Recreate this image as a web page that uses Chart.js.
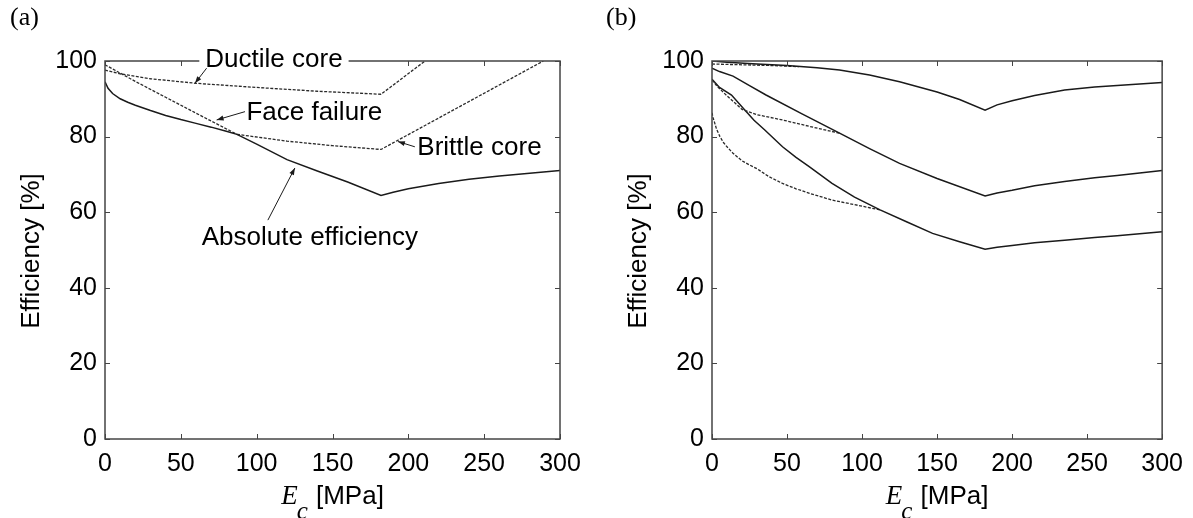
<!DOCTYPE html>
<html>
<head>
<meta charset="utf-8">
<script src="https://cdn.jsdelivr.net/npm/chart.js@4/dist/chart.umd.min.js"></script>
<style>
  body { margin: 0; background: #fff; }
  #wrap { position: relative; width: 1193px; height: 518px; }
  .panel { position: absolute; top: 0; height: 518px; }
</style>
</head>
<body>
<div id="wrap">
  <div class="panel" style="left:0;width:596px"><canvas id="chartA"></canvas></div>
  <div class="panel" style="left:596px;width:597px"><canvas id="chartB"></canvas></div>
</div>
<script>
// axis ticks
const xTicks = [0, 50, 100, 150, 200, 250, 300];
const yTicks = [0, 20, 40, 60, 80, 100];

// panel (a)
const absX = [0, 2, 5, 10, 15, 20, 30, 40, 50, 60, 70, 80, 87, 100, 120, 140, 160, 182, 190, 200, 220, 240, 260, 280, 300];
const absY = [94.5, 92.8, 91.4, 90.0, 89.1, 88.3, 86.9, 85.6, 84.5, 83.5, 82.5, 81.4, 80.6, 78.0, 73.9, 70.9, 68.0, 64.4, 65.3, 66.2, 67.6, 68.7, 69.6, 70.3, 71.0];
const faceX = [0, 20, 40, 60, 87];
const faceY = [99.0, 94.6, 90.4, 86.2, 80.6];
const ductX = [0, 10, 30, 60, 100, 140, 182, 211];
const ductY = [97.6, 96.6, 95.3, 94.1, 93.0, 92.0, 91.2, 100];
const britX = [87, 120, 150, 182, 289];
const britY = [80.6, 78.8, 77.6, 76.6, 100];

// panel (b)
const topSolidX = [0, 10, 30, 50, 70, 85, 105, 125, 150, 165, 182, 190, 200, 215, 235, 255, 270, 285, 300];
const topSolidY = [100, 99.7, 99.2, 98.8, 98.2, 97.6, 96.3, 94.5, 91.8, 89.8, 87.0, 88.4, 89.5, 90.9, 92.3, 93.1, 93.5, 93.9, 94.3];
const topDashX = [0, 20, 40, 58];
const topDashY = [99.2, 99.0, 98.8, 98.5];
const midSolidX = [0, 5, 14, 25, 36, 60, 85, 105, 125, 150, 182, 190, 200, 215, 235, 255, 270, 285, 300];
const midSolidY = [98.1, 97.2, 96.0, 93.5, 91.0, 86.0, 80.9, 76.8, 72.9, 68.9, 64.3, 65.1, 65.8, 67.0, 68.1, 69.1, 69.7, 70.4, 71.0];
const midDashX = [0, 3, 6, 10, 15, 20, 30, 47, 65, 85];
const midDashY = [95, 93.5, 92.3, 90.8, 89.0, 87.2, 85.8, 84.4, 82.7, 80.9];
const lowSolidX = [0, 5, 13, 22, 28, 35, 47, 56, 65, 80, 95, 112, 130, 147, 165, 182, 190, 200, 215, 235, 255, 270, 285, 300];
const lowSolidY = [95.2, 93, 91, 87, 84.3, 81.8, 77.3, 74.5, 72.0, 67.6, 64.0, 60.6, 57.4, 54.4, 52.2, 50.2, 50.7, 51.2, 51.9, 52.6, 53.3, 53.8, 54.3, 54.8];
const lowDashX = [0, 0.7, 1.5, 3, 5.3, 7.5, 10, 14, 20, 25, 30, 38, 47, 56, 65, 80, 100, 112];
const lowDashY = [86.3, 85.0, 84, 82.0, 80, 78.5, 77.3, 75.6, 73.6, 72.5, 71.5, 69.4, 67.6, 66.2, 65.0, 63.2, 61.6, 60.6];

// labels with arrows for panel (a), in data units: text centre, arrow tail, arrow head
const notes = [
  { text: 'Ductile core', at: [111.4, 100.3], from: [67, 98.1], to: [59.3, 94.1], box: true },
  { text: 'Face failure', at: [138, 86.2], from: [92.3, 86.6], to: [73.6, 84.4] },
  { text: 'Brittle core', at: [246.9, 77.0], from: [204.3, 77.3], to: [193.1, 78.7] },
  { text: 'Absolute efficiency', at: [135.1, 53.2], from: [107.4, 57.9], to: [125.2, 71.7] }
];

const FONT = '"Liberation Sans", Arial, sans-serif';
const SERIF = '"Liberation Serif", "Times New Roman", serif';
const zip = (xs, ys) => xs.map((x, i) => ({ x, y: ys[i] }));

function line(xs, ys, dashed) {
  return {
    data: zip(xs, ys),
    borderColor: dashed ? '#2a2a2a' : '#1a1a1a',
    borderWidth: dashed ? 1.3 : 1.5,
    borderDash: dashed ? [3, 1.5] : [],
    pointRadius: 0,
    tension: 0,
    fill: false
  };
}

function arrow(ctx, x1, y1, x2, y2) {
  ctx.beginPath();
  ctx.moveTo(x1, y1);
  ctx.lineTo(x2, y2);
  ctx.stroke();
  const a = Math.atan2(y2 - y1, x2 - x1);
  const L = 7, W = 2.5;
  ctx.beginPath();
  ctx.moveTo(x2, y2);
  ctx.lineTo(x2 - L * Math.cos(a) + W * Math.sin(a), y2 - L * Math.sin(a) - W * Math.cos(a));
  ctx.lineTo(x2 - L * Math.cos(a) - W * Math.sin(a), y2 - L * Math.sin(a) + W * Math.cos(a));
  ctx.closePath();
  ctx.fill();
}

function framePlugin(letter, withNotes) {
  return {
    id: 'frame' + letter,
    afterDraw(chart) {
      const { ctx, chartArea: a, scales } = chart;
      ctx.save();
      ctx.strokeStyle = '#444';
      ctx.lineWidth = 1.5;
      ctx.strokeRect(a.left, a.top, a.right - a.left, a.bottom - a.top);
      ctx.lineWidth = 1;
      ctx.beginPath();
      xTicks.forEach(v => {
        const px = Math.round(scales.x.getPixelForValue(v)) + 0.5;
        ctx.moveTo(px, a.bottom); ctx.lineTo(px, a.bottom - 5);
        ctx.moveTo(px, a.top); ctx.lineTo(px, a.top + 5);
      });
      yTicks.forEach(v => {
        const py = Math.round(scales.y.getPixelForValue(v)) + 0.5;
        ctx.moveTo(a.left, py); ctx.lineTo(a.left + 5, py);
        ctx.moveTo(a.right, py); ctx.lineTo(a.right - 5, py);
      });
      ctx.stroke();

      // panel letter
      ctx.fillStyle = '#000';
      ctx.font = '26px ' + SERIF;
      ctx.textAlign = 'left';
      ctx.textBaseline = 'middle';
      ctx.fillText('(' + letter + ')', 10, 18);

      // y title
      ctx.save();
      ctx.translate(a.left - 73, (a.top + a.bottom) / 2 + 1);
      ctx.rotate(-Math.PI / 2);
      ctx.font = '26px ' + FONT;
      ctx.textAlign = 'center';
      ctx.fillText('Efficiency [%]', 0, 0);
      ctx.restore();

      // x title: italic E with subscript c
      const cx = (a.left + a.right) / 2;
      const ty = a.bottom + 58;
      ctx.font = 'italic 27px ' + SERIF;
      const wE = ctx.measureText('E').width;
      ctx.font = 'italic 25px ' + SERIF;
      const wc = ctx.measureText('c').width;
      ctx.font = '26px ' + FONT;
      const wU = ctx.measureText(' [MPa]').width;
      const x0 = cx - (wE + wc + wU) / 2;
      ctx.textAlign = 'left';
      ctx.font = 'italic 27px ' + SERIF;
      ctx.fillText('E', x0, ty);
      ctx.font = 'italic 25px ' + SERIF;
      ctx.fillText('c', x0 + wE - 1, ty + 15);
      ctx.font = '26px ' + FONT;
      ctx.fillText(' [MPa]', x0 + wE + wc, ty);

      if (withNotes) {
        ctx.font = '26px ' + FONT;
        ctx.textAlign = 'center';
        ctx.strokeStyle = '#1a1a1a';
        ctx.lineWidth = 1;
        notes.forEach(n => {
          const tx = scales.x.getPixelForValue(n.at[0]);
          const ty2 = scales.y.getPixelForValue(n.at[1]);
          if (n.box) {
            const w = ctx.measureText(n.text).width;
            ctx.fillStyle = '#fff';
            ctx.fillRect(tx - w / 2 - 6, ty2 - 13, w + 12, 26);
          }
          ctx.fillStyle = '#000';
          ctx.fillText(n.text, tx, ty2);
          ctx.fillStyle = '#1a1a1a';
          arrow(ctx,
            scales.x.getPixelForValue(n.from[0]), scales.y.getPixelForValue(n.from[1]),
            scales.x.getPixelForValue(n.to[0]), scales.y.getPixelForValue(n.to[1]));
        });
      }
      ctx.restore();
    }
  };
}

function makeChart(id, letter, datasets, yWidth, rightPad, withNotes) {
  return new Chart(document.getElementById(id), {
    type: 'line',
    data: { datasets },
    options: {
      responsive: true,
      maintainAspectRatio: false,
      animation: false,
      layout: { padding: { top: 61, right: rightPad, left: 0, bottom: 0 } },
      plugins: { legend: { display: false }, tooltip: { enabled: false } },
      scales: {
        x: {
          type: 'linear', min: 0, max: 300,
          afterBuildTicks: s => { s.ticks = xTicks.map(v => ({ value: v })); },
          afterFit: s => { s.height = 79; },
          grid: { display: false, drawTicks: false },
          border: { display: false },
          ticks: { color: '#000', padding: 10, maxRotation: 0, font: { family: FONT, size: 25 } }
        },
        y: {
          min: 0, max: 100,
          afterBuildTicks: s => { s.ticks = yTicks.map(v => ({ value: v })); },
          afterFit: s => { s.width = yWidth; },
          grid: { display: false, drawTicks: false },
          border: { display: false },
          ticks: { color: '#000', padding: 8, font: { family: FONT, size: 25 } }
        }
      }
    },
    plugins: [framePlugin(letter, withNotes)]
  });
}

makeChart('chartA', 'a', [
  line(absX, absY, false),
  line(faceX, faceY, true),
  line(ductX, ductY, true),
  line(britX, britY, true)
], 105, 36, true);

makeChart('chartB', 'b', [
  line(topSolidX, topSolidY, false),
  line(topDashX, topDashY, true),
  line(midSolidX, midSolidY, false),
  line(midDashX, midDashY, true),
  line(lowSolidX, lowSolidY, false),
  line(lowDashX, lowDashY, true)
], 116, 28, false);
</script>
</body>
</html>
